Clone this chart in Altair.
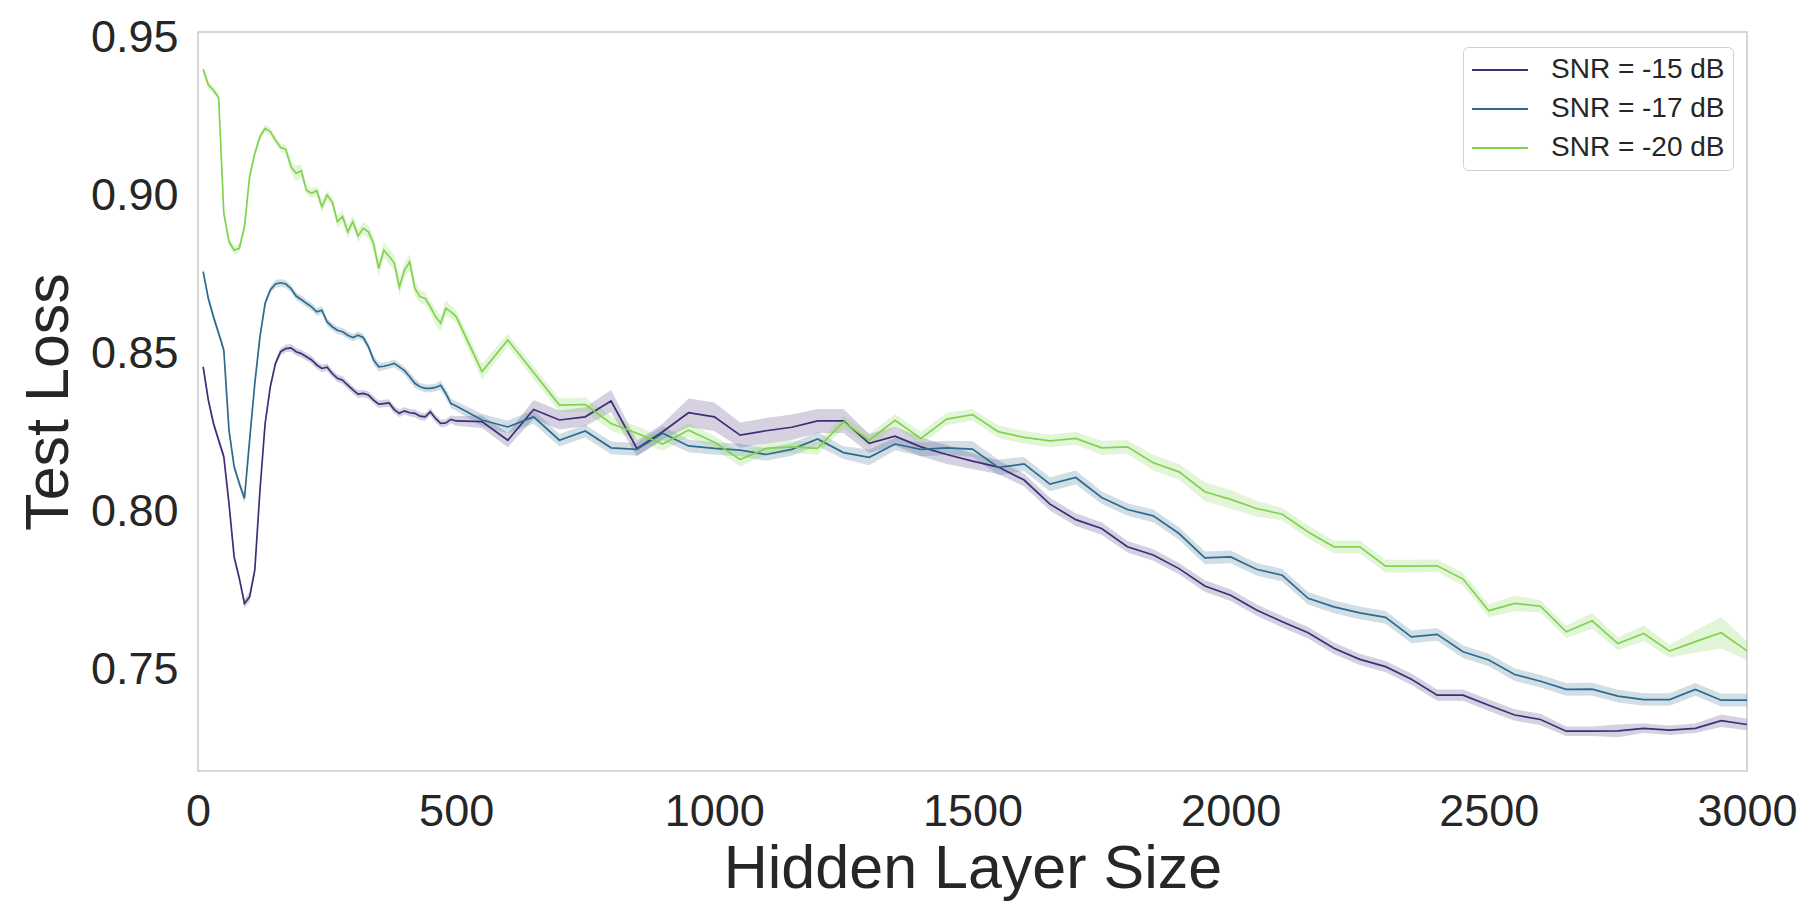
import altair as alt
import pandas as pd

# Hidden layer sizes: dense from 10 to 500 (step 10), then 550..3000 (step 50)
x_sizes = list(range(10, 501, 10)) + list(range(550, 3001, 50))

series_names = ["SNR = -15 dB", "SNR = -17 dB", "SNR = -20 dB"]
series_colors = ["#3f2e76", "#2e6a8e", "#80d34d"]

loss_15 = [
    0.8458, 0.8353, 0.8279, 0.8226, 0.8174, 0.8026, 0.7857, 0.7789, 0.7710, 0.7731,
    0.7815, 0.8068, 0.8279, 0.8395, 0.8469, 0.8506, 0.8516, 0.8518, 0.8506, 0.8500,
    0.8490, 0.8480, 0.8464, 0.8453, 0.8457, 0.8437, 0.8422, 0.8416, 0.8400, 0.8385,
    0.8372, 0.8374, 0.8369, 0.8353, 0.8340, 0.8342, 0.8344, 0.8323, 0.8311, 0.8319,
    0.8313, 0.8311, 0.8302, 0.8300, 0.8316, 0.8295, 0.8279, 0.8281, 0.8292, 0.8287,
    0.8285, 0.8226, 0.8323, 0.8290, 0.8300, 0.8350, 0.8200, 0.8253, 0.8313, 0.8300,
    0.8242, 0.8256, 0.8267, 0.8287, 0.8287, 0.8216, 0.8239, 0.8205, 0.8181, 0.8160,
    0.8141, 0.8100, 0.8024, 0.7975, 0.7947, 0.7889, 0.7863, 0.7820, 0.7765, 0.7736,
    0.7689, 0.7652, 0.7617, 0.7568, 0.7533, 0.7510, 0.7470, 0.7420, 0.7420, 0.7388,
    0.7357, 0.7343, 0.7306, 0.7306, 0.7307, 0.7315, 0.7309, 0.7315, 0.7339, 0.7327,
]
loss_17 = [
    0.8759, 0.8674, 0.8616, 0.8564, 0.8511, 0.8258, 0.8142, 0.8089, 0.8042, 0.8227,
    0.8406, 0.8553, 0.8659, 0.8701, 0.8720, 0.8724, 0.8720, 0.8706, 0.8682, 0.8671,
    0.8659, 0.8648, 0.8632, 0.8637, 0.8600, 0.8585, 0.8574, 0.8569, 0.8558, 0.8551,
    0.8558, 0.8551, 0.8522, 0.8480, 0.8458, 0.8460, 0.8464, 0.8469, 0.8458, 0.8446,
    0.8427, 0.8406, 0.8395, 0.8390, 0.8390, 0.8393, 0.8400, 0.8374, 0.8342, 0.8334,
    0.8290, 0.8268, 0.8300, 0.8226, 0.8255, 0.8202, 0.8197, 0.8248, 0.8208, 0.8200,
    0.8195, 0.8181, 0.8197, 0.8230, 0.8187, 0.8172, 0.8214, 0.8197, 0.8202, 0.8198,
    0.8140, 0.8151, 0.8087, 0.8108, 0.8045, 0.8007, 0.7987, 0.7931, 0.7854, 0.7857,
    0.7818, 0.7799, 0.7726, 0.7699, 0.7680, 0.7666, 0.7604, 0.7612, 0.7557, 0.7531,
    0.7485, 0.7464, 0.7438, 0.7439, 0.7417, 0.7406, 0.7406, 0.7438, 0.7404, 0.7404,
]
loss_20 = [
    0.9399, 0.9349, 0.9333, 0.9310, 0.8943, 0.8854, 0.8827, 0.8833, 0.8901, 0.9060,
    0.9133, 0.9186, 0.9212, 0.9202, 0.9175, 0.9152, 0.9146, 0.9091, 0.9070, 0.9078,
    0.9017, 0.9007, 0.9015, 0.8964, 0.9001, 0.8980, 0.8917, 0.8933, 0.8885, 0.8917,
    0.8872, 0.8896, 0.8885, 0.8848, 0.8769, 0.8827, 0.8808, 0.8787, 0.8711, 0.8764,
    0.8790, 0.8706, 0.8680, 0.8674, 0.8648, 0.8617, 0.8596, 0.8643, 0.8632, 0.8617,
    0.8443, 0.8543, 0.8440, 0.8337, 0.8339, 0.8279, 0.8248, 0.8214, 0.8258, 0.8220,
    0.8165, 0.8200, 0.8205, 0.8200, 0.8284, 0.8226, 0.8289, 0.8232, 0.8293, 0.8307,
    0.8253, 0.8235, 0.8224, 0.8232, 0.8202, 0.8205, 0.8155, 0.8126, 0.8063, 0.8039,
    0.8010, 0.7992, 0.7936, 0.7889, 0.7889, 0.7828, 0.7828, 0.7829, 0.7787, 0.7687,
    0.7710, 0.7701, 0.7620, 0.7655, 0.7583, 0.7615, 0.7559, 0.7589, 0.7617, 0.7560,
]

# half-width of the confidence band around each mean
band_15 = [
    0.0012, 0.0012, 0.0012, 0.0012, 0.0012, 0.0012, 0.0012, 0.0012, 0.0015, 0.0015,
    0.0012, 0.0012, 0.0012, 0.0012, 0.0012, 0.0012, 0.0012, 0.0012, 0.0012, 0.0012,
    0.0012, 0.0012, 0.0012, 0.0012, 0.0012, 0.0012, 0.0012, 0.0012, 0.0012, 0.0012,
    0.0012, 0.0012, 0.0012, 0.0012, 0.0012, 0.0012, 0.0012, 0.0012, 0.0012, 0.0012,
    0.0012, 0.0012, 0.0012, 0.0012, 0.0012, 0.0012, 0.0012, 0.0012, 0.0012, 0.0015,
    0.0020, 0.0022, 0.0030, 0.0030, 0.0030, 0.0035, 0.0025, 0.0025, 0.0045, 0.0045,
    0.0040, 0.0040, 0.0040, 0.0038, 0.0038, 0.0030, 0.0030, 0.0030, 0.0030, 0.0025,
    0.0022, 0.0020, 0.0020, 0.0020, 0.0020, 0.0018, 0.0018, 0.0018, 0.0018, 0.0018,
    0.0018, 0.0018, 0.0018, 0.0018, 0.0018, 0.0018, 0.0018, 0.0018, 0.0018, 0.0018,
    0.0018, 0.0018, 0.0015, 0.0015, 0.0020, 0.0015, 0.0015, 0.0015, 0.0020, 0.0018,
]
band_17 = [
    0.0012, 0.0012, 0.0012, 0.0012, 0.0012, 0.0012, 0.0012, 0.0012, 0.0015, 0.0015,
    0.0012, 0.0012, 0.0012, 0.0012, 0.0012, 0.0012, 0.0012, 0.0012, 0.0012, 0.0012,
    0.0012, 0.0012, 0.0012, 0.0012, 0.0012, 0.0012, 0.0012, 0.0012, 0.0012, 0.0012,
    0.0012, 0.0012, 0.0012, 0.0015, 0.0015, 0.0012, 0.0012, 0.0012, 0.0012, 0.0012,
    0.0015, 0.0015, 0.0012, 0.0012, 0.0012, 0.0012, 0.0015, 0.0015, 0.0015, 0.0015,
    0.0020, 0.0020, 0.0022, 0.0020, 0.0020, 0.0020, 0.0020, 0.0022, 0.0020, 0.0020,
    0.0020, 0.0020, 0.0020, 0.0022, 0.0020, 0.0025, 0.0020, 0.0022, 0.0022, 0.0025,
    0.0025, 0.0022, 0.0022, 0.0022, 0.0020, 0.0020, 0.0020, 0.0020, 0.0020, 0.0020,
    0.0020, 0.0020, 0.0020, 0.0020, 0.0020, 0.0020, 0.0020, 0.0020, 0.0020, 0.0020,
    0.0020, 0.0020, 0.0020, 0.0020, 0.0020, 0.0020, 0.0020, 0.0020, 0.0020, 0.0020,
]
band_20 = [
    0.0012, 0.0012, 0.0012, 0.0012, 0.0012, 0.0012, 0.0015, 0.0015, 0.0012, 0.0012,
    0.0012, 0.0012, 0.0012, 0.0012, 0.0012, 0.0012, 0.0015, 0.0020, 0.0025, 0.0020,
    0.0015, 0.0015, 0.0015, 0.0020, 0.0015, 0.0015, 0.0020, 0.0020, 0.0020, 0.0020,
    0.0020, 0.0020, 0.0020, 0.0025, 0.0025, 0.0025, 0.0025, 0.0025, 0.0030, 0.0025,
    0.0025, 0.0025, 0.0020, 0.0020, 0.0020, 0.0025, 0.0025, 0.0025, 0.0020, 0.0020,
    0.0025, 0.0020, 0.0020, 0.0022, 0.0022, 0.0022, 0.0022, 0.0022, 0.0022, 0.0020,
    0.0022, 0.0020, 0.0020, 0.0020, 0.0020, 0.0020, 0.0020, 0.0020, 0.0020, 0.0018,
    0.0020, 0.0020, 0.0020, 0.0020, 0.0022, 0.0022, 0.0025, 0.0025, 0.0030, 0.0030,
    0.0025, 0.0020, 0.0020, 0.0020, 0.0020, 0.0020, 0.0020, 0.0020, 0.0020, 0.0020,
    0.0025, 0.0020, 0.0020, 0.0025, 0.0020, 0.0025, 0.0020, 0.0035, 0.0050, 0.0030,
]

rows = []
for name, means, bands in zip(series_names, [loss_15, loss_17, loss_20], [band_15, band_17, band_20]):
    for xv, m, b in zip(x_sizes, means, bands):
        rows.append({"size": xv, "series": name, "loss": m, "lo": m - b, "hi": m + b})
df = pd.DataFrame(rows)

color_scale = alt.Scale(domain=series_names, range=series_colors)

x_enc = alt.X(
    "size:Q",
    scale=alt.Scale(domain=[0, 3000], nice=False, zero=False),
    axis=alt.Axis(
        title="Hidden Layer Size",
        values=[0, 500, 1000, 1500, 2000, 2500, 3000],
        format="d",
        labelFlush=False,
        labelPadding=18,
        titlePadding=5,
    ),
)
y_scale = alt.Scale(domain=[0.718, 0.9517], nice=False, zero=False)

band = alt.Chart(df).mark_area(opacity=0.22, interpolate="linear").encode(
    x=x_enc,
    y=alt.Y("lo:Q", scale=y_scale),
    y2="hi:Q",
    color=alt.Color("series:N", scale=color_scale, legend=None),
)

line = alt.Chart(df).mark_line(strokeWidth=1.7).encode(
    x=x_enc,
    y=alt.Y(
        "loss:Q",
        scale=y_scale,
        axis=alt.Axis(
            title="Test Loss",
            values=[0.75, 0.80, 0.85, 0.90, 0.95],
            format=".2f",
            labelPadding=20,
            titlePadding=10,
        ),
    ),
    color=alt.Color(
        "series:N",
        scale=color_scale,
        sort=series_names,
        legend=alt.Legend(
            title=None,
            orient="none",
            legendX=1265,
            legendY=15,
            symbolType="M-1,0H3",
            symbolSize=784,
            symbolStrokeWidth=2,
            labelFontSize=28,
            labelOffset=50,
            rowPadding=10,
            padding=8,
            strokeColor="#d0d0d0",
            cornerRadius=5,
            fillColor="#ffffff",
        ),
    ),
)

chart = (
    alt.layer(band, line)
    .resolve_legend(color="independent")
    .properties(
        width=1549,
        height=739,
        autosize=alt.AutoSizeParams(type="none"),
        padding={"left": 190, "top": 24, "right": 60, "bottom": 142},
        background="#ffffff",
    )
    .configure_view(stroke="#cccccc", strokeWidth=1.6)
    .configure_axis(
        grid=False,
        domain=False,
        ticks=False,
        labelFont="Liberation Sans",
        titleFont="Liberation Sans",
        labelFontSize=45,
        titleFontSize=61,
        titleFontWeight="normal",
        labelColor="#262626",
        titleColor="#262626",
    )
    .configure_legend(
        labelFont="Liberation Sans",
        labelColor="#262626",
        labelLimit=400,
    )
)

chart.save("out.html", embed_options={"renderer": "svg", "actions": False})
